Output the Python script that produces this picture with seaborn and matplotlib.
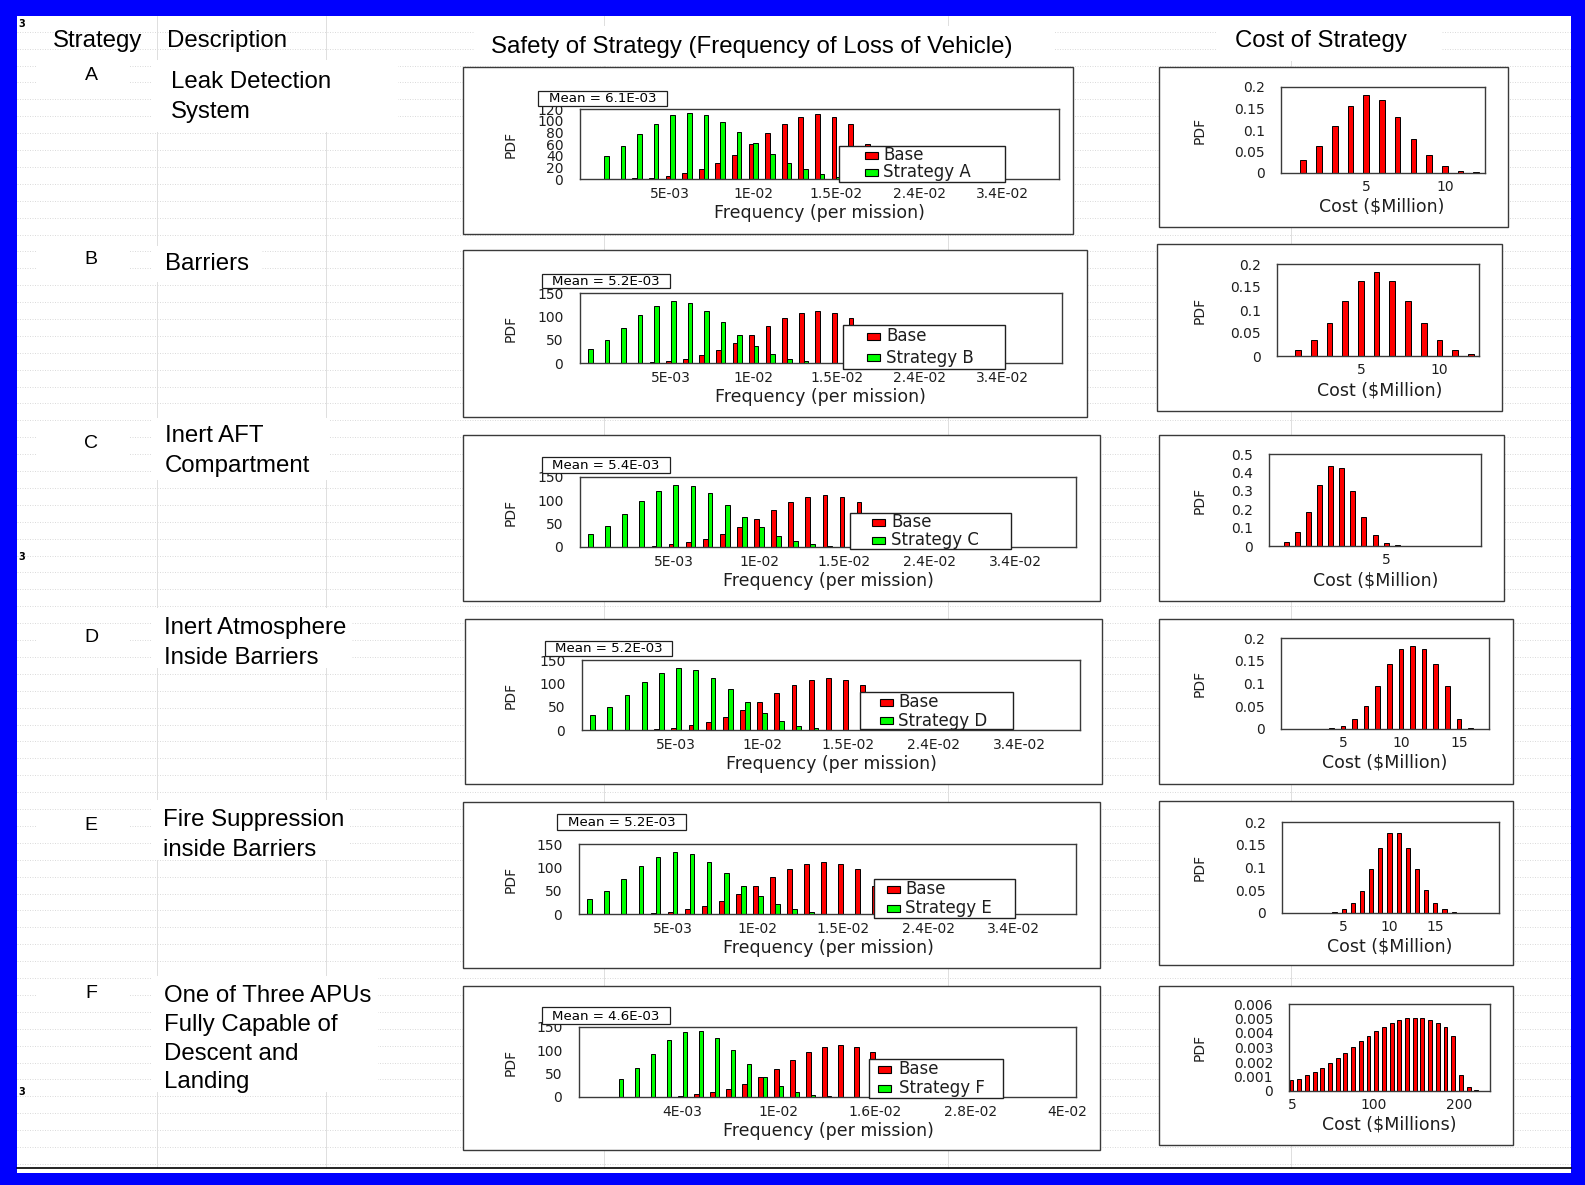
import matplotlib
matplotlib.use("Agg")
import matplotlib.pyplot as plt
from matplotlib.patches import Rectangle
import pandas as pd
import seaborn as sns

sns.set_theme(style="white")
plt.rcParams["font.family"] = ["DejaVu Sans"]

W, H = 1585, 1185

# ------------------------------------------------------------------ data
strategy_ids = ["A", "B", "C", "D", "E", "F"]
descriptions = [
    ["Leak Detection", "System"],
    ["Barriers"],
    ["Inert AFT", "Compartment"],
    ["Inert Atmosphere", "Inside Barriers"],
    ["Fire Suppression", "inside Barriers"],
    ["One of Three APUs", "Fully Capable of", "Descent and", "Landing"],
]
mean_labels = ["Mean = 6.1E-03", "Mean = 5.2E-03", "Mean = 5.4E-03",
               "Mean = 5.2E-03", "Mean = 5.2E-03", "Mean = 4.6E-03"]
series_names = ["Strategy A", "Strategy B", "Strategy C",
                "Strategy D", "Strategy E", "Strategy F"]

# loss-of-vehicle frequency histograms (bin index -> PDF)
freq_bin = list(range(18))
base_A = [0, 0, 0, 1, 2, 5, 10, 17, 28, 42, 60, 79, 95, 107, 111, 107, 95, 60]
strat_A = [0, 40, 57, 78, 95, 109, 113, 110, 98, 81, 62, 43, 27, 17, 9, 4, 1, 0]
base_B = [0, 0, 0, 1, 2, 5, 9, 17, 27, 43, 59, 79, 96, 107, 112, 107, 96, 60]
strat_B = [31, 50, 76, 102, 123, 133, 128, 112, 87, 59, 37, 20, 9, 4, 1, 0, 0, 0]
base_C = [0, 0, 0, 1, 3, 6, 10, 17, 28, 43, 60, 79, 96, 107, 112, 107, 96, 60]
strat_C = [28, 46, 70, 98, 121, 133, 131, 116, 91, 65, 42, 23, 12, 6, 3, 1, 0, 0]
base_D = [0, 0, 0, 1, 3, 5, 10, 17, 27, 43, 59, 79, 96, 107, 112, 107, 96, 60]
strat_D = [32, 50, 76, 102, 123, 133, 128, 112, 87, 59, 37, 20, 9, 4, 1, 0, 0, 0]
base_E = [0, 0, 0, 1, 2, 5, 10, 17, 28, 43, 60, 79, 96, 107, 112, 107, 96, 60]
strat_E = [32, 50, 76, 103, 123, 133, 128, 112, 88, 60, 38, 21, 10, 4, 1, 0, 0, 0]
base_F = [0, 0, 0, 1, 3, 6, 10, 17, 28, 43, 60, 79, 96, 107, 112, 107, 96, 60]
strat_F = [39, 63, 93, 122, 140, 141, 126, 100, 70, 42, 23, 11, 4, 2, 0, 0, 0, 0]

freq_ticks_AE = [5, 10, 15, 20, 25]
freq_ticklabels_AE = ["5E-03", "1E-02", "1.5E-02", "2.4E-02", "3.4E-02"]
freq_ticks_F = [4, 10, 16, 22, 28]
freq_ticklabels_F = ["4E-03", "1E-02", "1.6E-02", "2.8E-02", "4E-02"]

# cost histograms ($Million -> PDF)
cost_x_A = [1, 2, 3, 4, 5, 6, 7, 8, 9, 10, 11, 12]
cost_A = [0.030, 0.062, 0.109, 0.155, 0.181, 0.170, 0.130, 0.079, 0.0415,
          0.016, 0.0054, 0.0015]
cost_x_B = [1, 2, 3, 4, 5, 6, 7, 8, 9, 10, 11, 12]
cost_B = [0.0137, 0.0354, 0.072, 0.120, 0.164, 0.182, 0.164, 0.120, 0.072,
          0.035, 0.0137, 0.004]
cost_x_C = [0.5, 1.0, 1.5, 2.0, 2.5, 3.0, 3.5, 4.0, 4.5, 5.0, 5.5]
cost_C = [0.022, 0.076, 0.183, 0.330, 0.437, 0.422, 0.299, 0.158, 0.062,
          0.018, 0.004]
cost_x_D = [4, 5, 6, 7, 8, 9, 10, 11, 12, 13, 14, 15, 16]
cost_D = [0.003, 0.0073, 0.0218, 0.051, 0.0945, 0.143, 0.176, 0.182, 0.176,
          0.143, 0.0945, 0.022, 0.002]
cost_x_E = [3, 4, 5, 6, 7, 8, 9, 10, 11, 12, 13, 14, 15, 16, 17, 18]
cost_E = [0.001, 0.003, 0.008, 0.022, 0.048, 0.097, 0.143, 0.175, 0.175,
          0.143, 0.097, 0.050, 0.022, 0.008, 0.003, 0.001]
cost_x_F = [4, 13, 22, 31, 40, 49, 58, 67, 76, 85, 94, 103, 112, 121, 130,
            139, 148, 157, 166, 175, 184, 193, 202, 211, 220]
cost_F = [0.00076, 0.00083, 0.00108, 0.00129, 0.00159, 0.00191, 0.00228,
          0.00262, 0.00303, 0.00343, 0.00377, 0.00411, 0.00441, 0.00469,
          0.00487, 0.00501, 0.00503, 0.00501, 0.00487, 0.00469, 0.00441,
          0.00377, 0.00108, 0.00028, 0.00007]

cost_yticks_02 = [0, 0.05, 0.1, 0.15, 0.2]
cost_yticklabels_02 = ["0", "0.05", "0.1", "0.15", "0.2"]
cost_yticks_05 = [0, 0.1, 0.2, 0.3, 0.4, 0.5]
cost_yticklabels_05 = ["0", "0.1", "0.2", "0.3", "0.4", "0.5"]
cost_yticks_F = [0, 0.001, 0.002, 0.003, 0.004, 0.005, 0.006]
cost_yticklabels_F = ["0", "0.001", "0.002", "0.003", "0.004", "0.005", "0.006"]

# ---------------------------------------------------------------- layout
# all boxes in pixels: (left, top, right, bottom)
freq_outer = [(463, 67, 1073, 234), (463, 250, 1087, 417), (463, 435, 1100, 601),
              (465, 619, 1102, 784), (463, 802, 1100, 968), (463, 986, 1100, 1150)]
freq_frame = [(580, 109, 1059, 179), (580, 293, 1062, 363), (580, 477, 1076, 547),
              (582, 660, 1080, 730), (579, 844, 1076, 914), (579, 1027, 1076, 1097)]
freq_xlim = [(-0.44, 28.41), (-0.49, 28.6), (-0.47, 28.55),
             (-0.48, 28.5), (-0.49, 28.66), (-2.47, 28.56)]
mean_box = [(538, 91, 667, 106), (542, 274, 670, 288), (542, 457, 670, 473),
            (545, 641, 672, 656), (557, 814, 686, 830), (542, 1007, 670, 1024)]
# legend: box, handle x offset, text x offset, row offsets
legend_box = [(839, 146, 1005, 182, 26, 44, 9, 26.3),
              (843, 325, 1005, 369, 24, 43, 11, 32.7),
              (850, 513, 1011, 549, 22, 41, 9, 27.4),
              (860, 692, 1013, 729, 19.5, 38, 10, 28.7),
              (874, 879, 1015, 918, 12.5, 31, 10.4, 29),
              (869, 1059, 1003, 1098, 9, 29.6, 10.3, 29.3)]

cost_outer = [(1159, 67, 1508, 227), (1157, 244, 1502, 411), (1159, 435, 1504, 601),
              (1159, 619, 1513, 784), (1159, 801, 1513, 965), (1159, 986, 1513, 1145)]
cost_frame = [(1281, 87, 1485, 173), (1277, 264, 1479, 356), (1269, 454, 1481, 546),
              (1281, 638, 1489, 729), (1282, 822, 1499, 913), (1289, 1004, 1490, 1091)]
cost_xlim = [(-0.42, 12.56), (-0.34, 12.52), (-0.27, 9.27),
             (-0.33, 17.6), (-1.72, 21.95), (1.1, 236)]
cost_width = [0.36, 0.36, 0.45, 0.4, 0.45, 0.5]

letter_y = [75, 259, 443, 638, 825, 994]
desc_y = [82, 264, 436, 628, 820, 996]
desc_x = [171, 165, 165, 164, 163, 164]
# white sheet text boxes behind the description cells
desc_boxes = [(152, 60, 398, 132), (152, 246, 262, 282), (152, 418, 330, 480),
              (152, 608, 352, 668), (152, 800, 350, 860), (152, 976, 378, 1092)]

RED, GREEN = "#ff0000", "#00ff00"
INK = "#1e1e1e"
TICK_FS = 10
LABEL_FS = 12.5
SHEET_FS = 17.3

fig = plt.figure(figsize=(W / 100, H / 100), dpi=100)
fig.patch.set_facecolor("white")


def rect_axes(box, z=0):
    l, t, r, b = box
    return fig.add_axes([l / W, 1 - b / H, (r - l) / W, (b - t) / H], zorder=z)


# background sheet: grid lines and white boxes
bg = fig.add_axes([0, 0, 1, 1], zorder=-5)
bg.set_xlim(0, W)
bg.set_ylim(H, 0)
bg.axis("off")
y = 31.7
while y < 1168:
    bg.plot([17, 1571], [y, y], color="#d6d6d6", lw=0.6, ls=(0, (1.2, 1.8)))
    y += 16.9
for x in [157, 326, 604, 948, 1291]:
    bg.plot([x, x], [16, 1168], color="#dedede", lw=0.7)
bg.add_patch(Rectangle((475, 26), 580, 40, fc="white", ec="none", zorder=3))
bg.add_patch(Rectangle((1216, 16), 225, 45, fc="white", ec="none", zorder=3))
for l, t, r, b in desc_boxes:
    bg.add_patch(Rectangle((l, t), r - l, b - t, fc="white", ec="none", zorder=3))
for yy in letter_y:
    bg.add_patch(Rectangle((36, yy - 14), 94, 28, fc="white", ec="none", zorder=3))
for box in freq_outer + cost_outer:
    l, t, r, b = box
    bg.add_patch(Rectangle((l, t), r - l, b - t, fc="white", ec="#3a3a3a",
                           lw=1.0, zorder=4))

# overlay for annotations
ov = fig.add_axes([0, 0, 1, 1], zorder=10)
ov.set_xlim(0, W)
ov.set_ylim(H, 0)
ov.axis("off")
ov.patch.set_alpha(0)


def style_axes(ax):
    for s in ax.spines.values():
        s.set_visible(True)
        s.set_color("#3a3a3a")
        s.set_linewidth(1.0)
    ax.set_facecolor("white")
    ax.grid(False)


def place_labels(ax, frame, xlabel, ylabel_x, xlabel_cx, xlabel_dy=34):
    l, t, r, b = frame
    ax.set_xlabel(xlabel, fontsize=LABEL_FS, color=INK)
    ax.set_ylabel("PDF", fontsize=10, color=INK)
    ax.xaxis.set_label_coords((xlabel_cx - l) / (r - l), -xlabel_dy / (b - t))
    ax.xaxis.label.set_va("center")
    ax.yaxis.set_label_coords((ylabel_x - l) / (r - l), 0.5)
    ax.yaxis.label.set_va("center")
    ax.yaxis.label.set_ha("center")


freq_base = [base_A, base_B, base_C, base_D, base_E, base_F]
freq_strat = [strat_A, strat_B, strat_C, strat_D, strat_E, strat_F]
xlabel_centers = [819, 820, 828, 831, 828, 828]

for i in range(6):
    frame = freq_frame[i]
    ax = rect_axes(frame)
    name = series_names[i]
    df = pd.DataFrame({
        "bin": freq_bin * 2,
        "pdf": freq_base[i] + freq_strat[i],
        "series": ["Base"] * len(freq_bin) + [name] * len(freq_bin),
    })
    df = df[df["pdf"] > 0]
    sns.barplot(data=df, x="bin", y="pdf", hue="series",
                hue_order=["Base", name], palette=[RED, GREEN],
                native_scale=True, dodge=True, width=0.56, saturation=1,
                edgecolor="black", linewidth=0.7, errorbar=None,
                legend=False, ax=ax)
    style_axes(ax)
    ax.set_xlim(*freq_xlim[i])
    if i == 0:
        ax.set_ylim(0, 120)
        ax.set_yticks([0, 20, 40, 60, 80, 100, 120])
    else:
        ax.set_ylim(0, 150)
        ax.set_yticks([0, 50, 100, 150])
    if i < 5:
        ax.set_xticks(freq_ticks_AE, freq_ticklabels_AE)
    else:
        ax.set_xticks(freq_ticks_F, freq_ticklabels_F)
    ax.tick_params(axis="both", length=0, labelsize=TICK_FS, colors=INK)
    ax.tick_params(axis="y", pad=12)
    ax.tick_params(axis="x", pad=5.5)
    place_labels(ax, frame, "Frequency (per mission)", 511, xlabel_centers[i])

    # mean annotation
    l, t, r, b = mean_box[i]
    ov.add_patch(Rectangle((l, t), r - l, b - t, fc="white", ec="#202020", lw=0.9))
    ov.text((l + r) / 2, (t + b) / 2 + 0.5, mean_labels[i], fontsize=9.6,
            color="black", ha="center", va="center")

    # legend
    l, t, r, b, hdx, tdx, r1, r2 = legend_box[i]
    ov.add_patch(Rectangle((l, t), r - l, b - t, fc="white", ec="#202020", lw=1.0))
    for dy, col, lab in [(r1, RED, "Base"), (r2, GREEN, name)]:
        ov.add_patch(Rectangle((l + hdx, t + dy - 3.5), 13, 7, fc=col,
                               ec="black", lw=0.8))
        ov.text(l + tdx, t + dy, lab, fontsize=12, color=INK, ha="left",
                va="center")

cost_x = [cost_x_A, cost_x_B, cost_x_C, cost_x_D, cost_x_E, cost_x_F]
cost_y = [cost_A, cost_B, cost_C, cost_D, cost_E, cost_F]
cost_xticks = [[5, 10], [5, 10], [5], [5, 10, 15], [5, 10, 15], [5, 100, 200]]
cost_xlabel_center = [1382, 1380, 1376, 1385, 1390, 1389]

for i in range(6):
    frame = cost_frame[i]
    ax = rect_axes(frame)
    sns.barplot(x=cost_x[i], y=cost_y[i], native_scale=True, color=RED,
                saturation=1, width=cost_width[i], edgecolor="black",
                linewidth=0.7, errorbar=None, ax=ax)
    style_axes(ax)
    ax.set_xlim(*cost_xlim[i])
    if i == 2:
        ax.set_ylim(0, 0.5)
        ax.set_yticks(cost_yticks_05, cost_yticklabels_05)
    elif i == 5:
        ax.set_ylim(0, 0.006)
        ax.set_yticks(cost_yticks_F, cost_yticklabels_F)
    else:
        ax.set_ylim(0, 0.2)
        ax.set_yticks(cost_yticks_02, cost_yticklabels_02)
    ax.set_xticks(cost_xticks[i], [str(v) for v in cost_xticks[i]])
    ax.tick_params(axis="both", length=0, labelsize=TICK_FS, colors=INK)
    ax.tick_params(axis="y", pad=11.5)
    ax.tick_params(axis="x", pad=5)
    place_labels(ax, frame, "Cost ($Millions)" if i == 5 else "Cost ($Million)",
                 1200, cost_xlabel_center[i])

# sheet text
SHEET = ["Liberation Sans", "DejaVu Sans"]
hdr = ov.text(53, 41, "Strategy", fontsize=SHEET_FS, family=SHEET, color="black",
              ha="left", va="center")
hdr.set_clip_path(Rectangle((0, 0), W, 48, transform=ov.transData))
ov.text(167, 41, "Description", fontsize=SHEET_FS, family=SHEET, color="black",
        ha="left", va="center")
ov.text(752, 47.5, "Safety of Strategy (Frequency of Loss of Vehicle)",
        fontsize=SHEET_FS, family=SHEET, color="black", ha="center", va="center")
ov.text(1321, 41.5, "Cost of Strategy", fontsize=SHEET_FS, family=SHEET,
        color="black", ha="center", va="center")
for i in range(6):
    ov.text(91, letter_y[i], strategy_ids[i], fontsize=14, family=SHEET,
            color="black", ha="center", va="center")
    for j, line in enumerate(descriptions[i]):
        gap = 28.8 if i == 5 else 29.6
        ov.text(desc_x[i], desc_y[i] + j * gap, line, fontsize=SHEET_FS,
                family=SHEET, color="black", ha="left", va="center")
for yy in [24, 557, 1092]:
    ov.text(18, yy, "3", fontsize=7, fontweight="bold", color="black",
            ha="left", va="center")

# window frame
BLUE = "#0000fe"
ov.plot([17, 1571], [1168, 1168], color="black", lw=1.2)
for x0, y0, w0, h0 in [(0, 0, W, 16), (0, 0, 17, H), (1571, 0, 14, H),
                       (0, 1173, W, 12)]:
    ov.add_patch(Rectangle((x0, y0), w0, h0, fc=BLUE, ec="none"))

fig.savefig("out.png", dpi=100, facecolor="white")
